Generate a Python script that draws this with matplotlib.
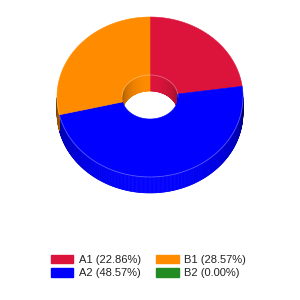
import numpy as np
import matplotlib
matplotlib.use("Agg")
import matplotlib.pyplot as plt
from matplotlib.collections import PolyCollection
from matplotlib.patches import Patch
from matplotlib.colors import to_rgb

# chart data
labels = ["A1", "A2", "B1", "B2"]
values = [8, 17, 10, 0]
colors = ["#DC143C", "#0000FF", "#FF8C00", "#228B22"]

# geometry of the 3d donut (pixel space)
cx, cy = 150, 97
rx, ry = 93, 80
irx, iry = 28, 22
depth = 16

total = sum(values)
fracs = [v / total for v in values]


def pt(theta, a, b, dy=0.0):
    t = np.radians(theta)
    return cx + a * np.cos(t), cy - b * np.sin(t) + dy


def shade(col, f):
    r, g, b = to_rgb(col)
    return (r * f, g * f, b * f)


fig = plt.figure(figsize=(3, 3), dpi=100)
ax = fig.add_axes([0, 0, 1, 1])
ax.set_xlim(0, 300)
ax.set_ylim(300, 0)
ax.axis("off")

# slice angle ranges (start at 12 o'clock, clockwise)
slices = []
start = 90.0
for f, c in zip(fracs, colors):
    end = start - f * 360
    if f > 0:
        slices.append((end, start, c))
    start = end

inner_polys, inner_cols = [], []
outer_polys, outer_cols = [], []
top_polys, top_cols = [], []

for a0, a1, c in slices:
    th = np.linspace(a0, a1, max(int((a1 - a0) * 2), 2))
    # walls, split into small steps
    for t0, t1 in zip(th[:-1], th[1:]):
        tm = (t0 + t1) / 2
        s = np.sin(np.radians(tm))
        if s > 0:  # back inner wall is visible through the hole
            p = [pt(t0, irx, iry), pt(t1, irx, iry),
                 pt(t1, irx, iry, depth), pt(t0, irx, iry, depth)]
            inner_polys.append(p)
            inner_cols.append(shade(c, 0.62 + 0.38 * s))
        else:  # front outer wall
            p = [pt(t0, rx, ry), pt(t1, rx, ry),
                 pt(t1, rx, ry, depth), pt(t0, rx, ry, depth)]
            outer_polys.append(p)
            outer_cols.append(shade(c, 0.3 + 0.7 * (-s) ** 0.5))
    # top face
    outer = [pt(t, rx, ry) for t in th]
    inner = [pt(t, irx, iry) for t in th[::-1]]
    top_polys.append(outer + inner)
    top_cols.append(c)

for polys, cols in [(inner_polys, inner_cols), (outer_polys, outer_cols), (top_polys, top_cols)]:
    ax.add_collection(PolyCollection(polys, facecolors=cols, edgecolors=cols,
                                     linewidths=0.4, antialiased=True))

# faint highlight along the rims
tf = np.linspace(180, 360, 200)
ax.plot(*pt(tf, rx, ry), color="white", lw=0.6, alpha=0.35)
tb = np.linspace(0, 180, 100)
ax.plot(*pt(tb, irx, iry), color="white", lw=0.6, alpha=0.35)

handles = [Patch(facecolor=c, edgecolor=c) for c in colors]
legend_labels = [f"{l} ({f * 100:.2f}%)" for l, f in zip(labels, fracs)]
fig.legend(handles, legend_labels, ncol=2, loc="upper left",
           bbox_to_anchor=(51 / 300, 1 - 255 / 300), frameon=False,
           prop={"family": "Liberation Sans", "size": 8},
           handlelength=2.0, handleheight=0.75, handletextpad=0.5,
           columnspacing=1.4, labelspacing=0.3, borderpad=0,
           borderaxespad=0, labelcolor="#222222")

fig.savefig("out.png", dpi=100, facecolor="white")
